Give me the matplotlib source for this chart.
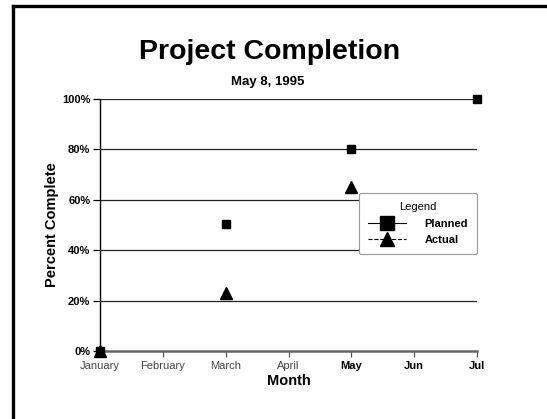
import matplotlib
matplotlib.use('Agg')
import matplotlib.pyplot as plt
from matplotlib.lines import Line2D

months = ['January', 'February', 'March', 'April', 'May', 'Jun', 'Jul']
planned_x = [0, 2, 4, 6]
planned_y = [0, 50.5, 80, 100]
actual_x = [0, 2, 4]
actual_y = [0, 23, 65]
yticks = [0, 20, 40, 60, 80, 100]
ytick_labels = ['0%', '20%', '40%', '60%', '80%', '100%']

plt.rcParams['font.family'] = ['Liberation Sans', 'DejaVu Sans']

fig = plt.figure(figsize=(5.47, 4.19), dpi=100)
ax = fig.add_axes([100/547, 68/419, 377/547, 252/419])

# frame lines of the slide
fig.add_artist(Line2D([13/547, 13/547], [0, 1 - 6/419], transform=fig.transFigure, color='black', lw=2.4))
fig.add_artist(Line2D([13/547, 1], [1 - 6/419, 1 - 6/419], transform=fig.transFigure, color='black', lw=2.4))

for y in yticks[1:]:
    ax.axhline(y, color='#222222', lw=0.9, zorder=1)

ax.plot(planned_x, planned_y, linestyle='none', marker='s', color='black', markersize=5.5, clip_on=False, zorder=3)
ax.plot(actual_x, actual_y, linestyle='none', marker='^', color='black', markersize=9, clip_on=False, zorder=4)

ax.set_xlim(0, 6)
ax.set_ylim(0, 100)
ax.set_xticks(range(len(months)))
ax.set_xticklabels(months, fontsize=8)
for i, lab in enumerate(ax.get_xticklabels()):
    if i >= 4:
        lab.set_fontweight('bold')
        lab.set_color('black')
    else:
        lab.set_color('#444444')
ax.set_yticks(yticks)
ax.set_yticklabels(ytick_labels, fontsize=8, fontweight='bold')
ax.tick_params(axis='y', length=5, width=0.9, pad=2)
ax.tick_params(axis='x', length=4, width=0.9, color='#555555', pad=3)

for s in ['top', 'right']:
    ax.spines[s].set_visible(False)
ax.spines['left'].set_linewidth(1.0)
ax.spines['bottom'].set_color('#666666')
ax.spines['bottom'].set_linewidth(1.8)

ax.set_xlabel('Month', fontsize=10.5, fontweight='bold', labelpad=2)
ax.set_ylabel('Percent Complete', fontsize=10.5, fontweight='bold', labelpad=2)

fig.text(0.492, 1 - 52/419, 'Project Completion', ha='center', va='center', fontsize=20.5, fontweight='bold')
fig.text(0.49, 1 - 82/419, 'May 8, 1995', ha='center', va='center', fontsize=9.5, fontweight='bold')

handles = [Line2D([], [], color='black', lw=0.8, marker='s', markersize=10, linestyle='-'),
           Line2D([], [], color='black', lw=0.8, marker='^', markersize=10, linestyle='--')]
leg = ax.legend(handles, ['Planned', 'Actual'], title='Legend', loc='upper right',
                bbox_to_anchor=(1.0, 0.627), borderaxespad=0, fontsize=8, title_fontsize=8,
                fancybox=True, framealpha=1, edgecolor='#999999', handlelength=3.4,
                labelspacing=0.6, borderpad=0.8, handletextpad=1.7)
for t in leg.get_texts():
    t.set_fontweight('bold')
leg.get_frame().set_linewidth(0.8)

fig.savefig('out.png', dpi=100)
